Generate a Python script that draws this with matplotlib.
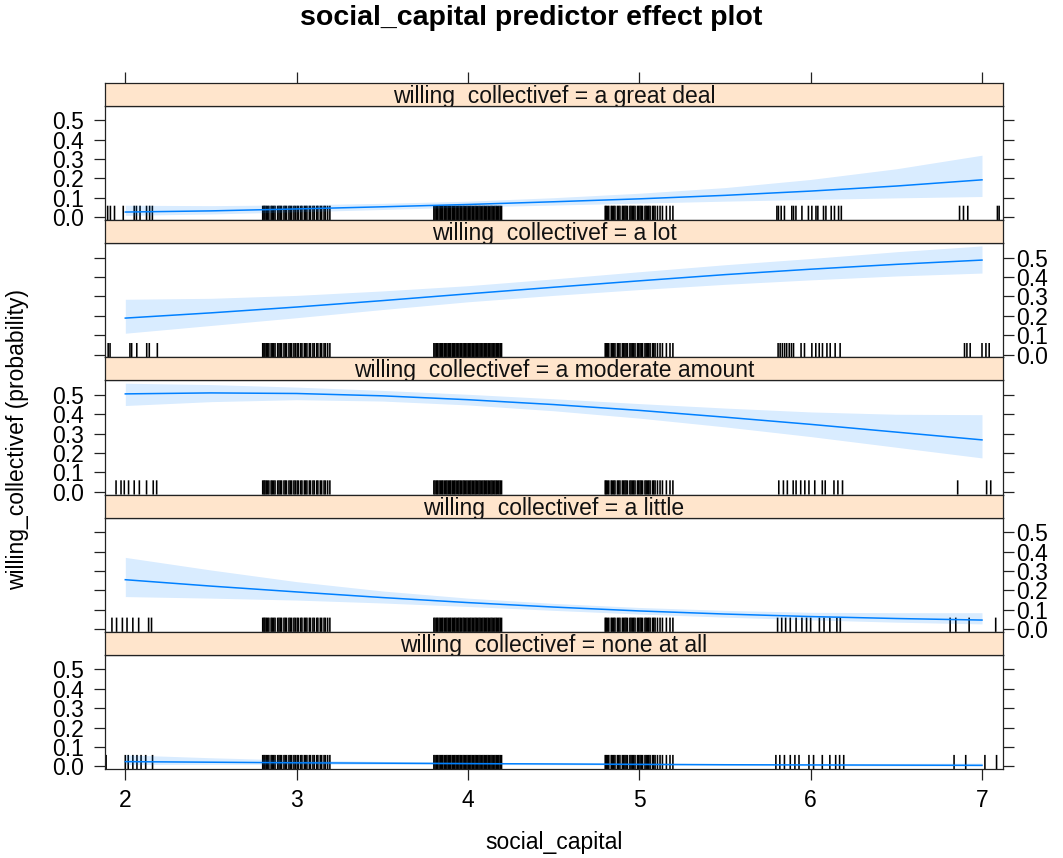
import matplotlib
matplotlib.use("Agg")
import matplotlib.pyplot as plt
from matplotlib.transforms import blended_transform_factory

plt.rcParams['font.family'] = ['Liberation Sans', 'DejaVu Sans']

# ---------------- data ----------------
title = "social_capital predictor effect plot"
xlabel = "social_capital"
ylabel = "willing_collectivef (probability)"
levels = ["a great deal", "a lot", "a moderate amount", "a little", "none at all"]

x_grid = [2.0, 2.5, 3.0, 3.5, 4.0, 4.5, 5.0, 5.5, 6.0, 6.5, 7.0]

fit_great_deal = [0.027, 0.033, 0.043, 0.054, 0.066, 0.080, 0.095, 0.113, 0.135, 0.161, 0.193]
low_great_deal = [0.010, 0.017, 0.028, 0.040, 0.053, 0.063, 0.073, 0.083, 0.092, 0.100, 0.107]
up_great_deal = [0.062, 0.060, 0.064, 0.072, 0.083, 0.101, 0.124, 0.153, 0.195, 0.250, 0.320]

fit_a_lot = [0.188, 0.215, 0.245, 0.278, 0.313, 0.347, 0.380, 0.412, 0.440, 0.465, 0.487]
low_a_lot = [0.110, 0.150, 0.190, 0.232, 0.272, 0.305, 0.335, 0.362, 0.385, 0.405, 0.420]
up_a_lot = [0.285, 0.290, 0.305, 0.328, 0.355, 0.390, 0.427, 0.463, 0.495, 0.530, 0.560]

fit_moderate = [0.505, 0.510, 0.507, 0.495, 0.475, 0.450, 0.420, 0.385, 0.348, 0.308, 0.268]
low_moderate = [0.445, 0.465, 0.475, 0.468, 0.448, 0.418, 0.380, 0.335, 0.285, 0.230, 0.175]
up_moderate = [0.560, 0.553, 0.540, 0.523, 0.503, 0.480, 0.455, 0.432, 0.412, 0.400, 0.398]

fit_little = [0.255, 0.222, 0.192, 0.163, 0.137, 0.114, 0.094, 0.078, 0.065, 0.055, 0.047]
low_little = [0.168, 0.160, 0.150, 0.135, 0.117, 0.097, 0.078, 0.062, 0.048, 0.036, 0.027]
up_little = [0.370, 0.305, 0.245, 0.197, 0.160, 0.133, 0.112, 0.097, 0.087, 0.085, 0.085]

fit_none = [0.025, 0.022, 0.019, 0.017, 0.015, 0.013, 0.011, 0.009, 0.008, 0.007, 0.006]
low_none = [0.010, 0.011, 0.011, 0.011, 0.010, 0.009, 0.007, 0.005, 0.004, 0.003, 0.002]
up_none = [0.060, 0.045, 0.033, 0.026, 0.021, 0.018, 0.016, 0.015, 0.015, 0.016, 0.018]

# rug (jittered observed social_capital values)
rug_cluster3 = [2.802, 2.809, 2.815, 2.823, 2.830, 2.838, 2.851, 2.858, 2.866, 2.874, 2.889,
                2.897, 2.905, 2.912, 2.926, 2.934, 2.941, 2.955, 2.963, 2.971, 2.984, 2.992,
                3.003, 3.011, 3.024, 3.031, 3.045, 3.052, 3.060, 3.074, 3.081, 3.095, 3.103,
                3.117, 3.124, 3.138, 3.146, 3.160, 3.168, 3.181, 3.194]
rug_cluster4 = [3.801, 3.808, 3.817, 3.822, 3.831, 3.839, 3.846, 3.853, 3.862, 3.870, 3.877,
                3.885, 3.893, 3.899, 3.908, 3.916, 3.923, 3.931, 3.940, 3.947, 3.955, 3.962,
                3.971, 3.978, 3.986, 3.994, 4.002, 4.010, 4.017, 4.025, 4.033, 4.041, 4.048,
                4.056, 4.064, 4.071, 4.079, 4.087, 4.095, 4.102, 4.110, 4.118, 4.126, 4.134,
                4.141, 4.149, 4.157, 4.165, 4.172, 4.180, 4.188, 4.196]
rug_cluster5 = [4.801, 4.807, 4.814, 4.822, 4.836, 4.843, 4.851, 4.858, 4.872, 4.879, 4.887,
                4.901, 4.908, 4.916, 4.923, 4.931, 4.945, 4.952, 4.960, 4.967, 4.975, 4.989,
                4.996, 5.004, 5.011, 5.019, 5.033, 5.040, 5.048, 5.055, 5.063, 5.077, 5.084,
                5.092, 5.106, 5.121, 5.135, 5.158, 5.179, 5.196]

rug_sparse_great_deal = [1.897, 1.913, 1.937, 1.988, 2.052, 2.065, 2.086, 2.124, 2.142, 2.158,
                         5.803, 5.812, 5.828, 5.847, 5.890, 5.900, 5.914, 5.949, 5.987, 6.007,
                         6.031, 6.042, 6.075, 6.089, 6.120, 6.139, 6.163, 6.179,
                         6.869, 6.892, 6.917, 7.090, 7.100]
rug_sparse_a_lot = [1.900, 1.911, 2.027, 2.037, 2.067, 2.125, 2.140, 2.187,
                    5.810, 5.822, 5.835, 5.848, 5.860, 5.875, 5.888, 5.900,
                    5.944, 5.964, 6.007, 6.030, 6.050, 6.069, 6.095, 6.114, 6.143, 6.172,
                    6.898, 6.912, 6.931, 7.000, 7.023, 7.042]
rug_sparse_moderate = [1.946, 1.975, 1.994, 2.019, 2.052, 2.082, 2.124, 2.163, 2.183,
                       5.814, 5.841, 5.864, 5.898, 5.915, 5.942, 5.966, 5.990, 6.024, 6.068,
                       6.085, 6.136, 6.159, 6.186,
                       6.858, 7.027, 7.051]
rug_sparse_little = [1.922, 1.949, 1.983, 2.010, 2.044, 2.078, 2.136, 2.153,
                     5.807, 5.831, 5.854, 5.881, 5.915, 5.949, 5.976, 6.000, 6.051, 6.078,
                     6.112, 6.153, 6.173,
                     6.814, 6.847, 6.925, 7.080]
rug_sparse_none = [1.888, 2.000, 2.017, 2.044, 2.068, 2.092, 2.119, 2.159,
                   5.797, 5.820, 5.847, 5.881, 5.908, 5.932, 5.990, 6.017, 6.068, 6.112,
                   6.146, 6.169, 6.193,
                   6.837, 6.905, 7.017, 7.085]

fits = [fit_great_deal, fit_a_lot, fit_moderate, fit_little, fit_none]
lows = [low_great_deal, low_a_lot, low_moderate, low_little, low_none]
ups = [up_great_deal, up_a_lot, up_moderate, up_little, up_none]
rugs_sparse = [rug_sparse_great_deal, rug_sparse_a_lot, rug_sparse_moderate,
               rug_sparse_little, rug_sparse_none]

x_ticks = [2, 3, 4, 5, 6, 7]
y_ticks = [0.0, 0.1, 0.2, 0.3, 0.4, 0.5]
y_ticklabels = ["0.0", "0.1", "0.2", "0.3", "0.4", "0.5"]

# ---------------- style / layout ----------------
W, H = 1063, 858
fig = plt.figure(figsize=(W / 100, H / 100), dpi=100)

line_col = "#0080ff"
strip_col = "#ffe5cc"
axis_col = "#222222"
fs = 16.5
xlim = (1.8815, 7.1226)
ylim = (-0.014, 0.575)

left_px, right_px = 105, 1003
first_top = 82.7
pitch = 137.3
strip_h = 23.0

for i, lev in enumerate(levels):
    s_top = first_top + pitch * i
    s_bot = s_top + strip_h
    p_bot = s_top + pitch
    ax = fig.add_axes([left_px / W, 1 - p_bot / H, (right_px - left_px) / W, (p_bot - s_bot) / H])
    sax = fig.add_axes([left_px / W, 1 - s_bot / H, (right_px - left_px) / W, strip_h / H])

    # rug
    rug_vals = rug_cluster3 + rug_cluster4 + rug_cluster5 + rugs_sparse[i]
    tr = blended_transform_factory(ax.transData, ax.transAxes)
    rug = ax.vlines(rug_vals, 0, 0.125, transform=tr, color="black", lw=1.15, zorder=1)
    rug.set_snap(False)

    # band + fit
    ax.fill_between(x_grid, lows[i], ups[i], color=line_col, alpha=0.15, lw=0, zorder=2)
    ax.plot(x_grid, fits[i], color=line_col, lw=1.1, zorder=3)

    ax.set_xlim(*xlim)
    ax.set_ylim(*ylim)
    ax.set_yticks(y_ticks)
    ax.set_yticklabels(y_ticklabels)
    for sp in ax.spines.values():
        sp.set_color(axis_col)
        sp.set_linewidth(0.9)
    right_lab = (i % 2 == 1)
    ax.tick_params(axis="y", direction="out", length=8, width=0.9, color=axis_col,
                   left=True, right=True, labelleft=not right_lab, labelright=right_lab,
                   labelsize=fs, pad=1.5 if right_lab else 7)
    if i == len(levels) - 1:
        ax.set_xticks(x_ticks)
        ax.tick_params(axis="x", direction="out", length=8, width=0.9, color=axis_col,
                       bottom=True, top=False, labelbottom=True, labelsize=fs, pad=6.5)
    else:
        ax.tick_params(axis="x", bottom=False, top=False, labelbottom=False)

    # strip
    sax.set_facecolor(strip_col)
    sax.set_xlim(*xlim)
    sax.set_ylim(0, strip_h)
    sax.set_yticks([])
    for sp in sax.spines.values():
        sp.set_color(axis_col)
        sp.set_linewidth(0.9)
    if i == 0:
        sax.set_xticks(x_ticks)
        sax.tick_params(axis="x", direction="out", length=8, width=0.9, color=axis_col,
                        bottom=False, top=True, labelbottom=False, labeltop=False)
    else:
        sax.set_xticks([])
    sax.text(0.5, 3.0, "willing_collectivef = " + lev,
             transform=blended_transform_factory(sax.transAxes, sax.transData),
             ha="center", va="baseline", fontsize=fs, color="#111111",
             clip_on=True, zorder=2)

fig.text(531.5 / W, 1 - 18 / H, title, ha="center", va="center", fontsize=20.5,
         fontweight="bold")
fig.text(554 / W, 1 - 843 / H, xlabel, ha="center", va="center", fontsize=fs)
fig.text(18 / W, 1 - 440 / H, ylabel, ha="center", va="center", rotation=90, fontsize=fs)

fig.savefig("out.png", dpi=100)
